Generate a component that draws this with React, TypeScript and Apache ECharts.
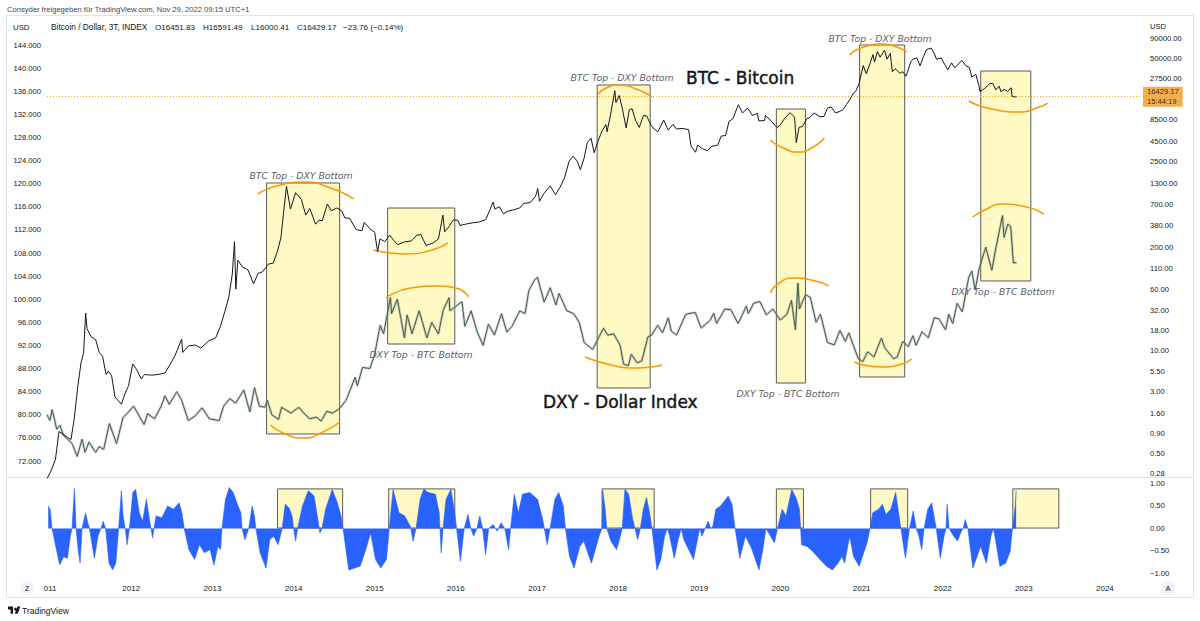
import React, { useEffect, useRef } from 'react';
import * as echarts from 'echarts';

// ---------- DATA ----------
const btcPrice: [string, number][] = [
  ['2010-12-18', 0.24], ['2011-01-05', 0.30], ['2011-01-25', 0.42], ['2011-02-10', 0.95], ['2011-02-28', 0.88],
  ['2011-03-20', 0.80], ['2011-04-05', 0.75], ['2011-04-20', 1.4], ['2011-05-05', 3.4], ['2011-05-20', 7.0],
  ['2011-06-01', 9.5], ['2011-06-10', 30], ['2011-06-16', 19], ['2011-07-05', 15], ['2011-07-25', 13.8],
  ['2011-08-10', 9.5], ['2011-08-25', 8.5], ['2011-09-10', 5.0], ['2011-09-20', 5.5], ['2011-10-05', 4.8],
  ['2011-10-20', 2.6], ['2011-11-18', 2.1], ['2011-12-05', 2.9], ['2011-12-20', 3.6], ['2012-01-08', 6.8],
  ['2012-01-25', 5.8], ['2012-02-15', 4.4], ['2012-03-01', 5.0], ['2012-04-01', 4.9], ['2012-05-01', 5.0],
  ['2012-06-01', 5.2], ['2012-06-20', 6.4], ['2012-07-15', 8.5], ['2012-08-15', 14], ['2012-08-20', 9.5],
  ['2012-09-15', 11.5], ['2012-10-15', 11.8], ['2012-11-10', 10.8], ['2012-12-15', 13.3], ['2013-01-15', 14.5],
  ['2013-02-05', 20], ['2013-02-25', 31], ['2013-03-15', 47], ['2013-03-31', 93], ['2013-04-10', 240],
  ['2013-04-16', 60], ['2013-04-25', 140], ['2013-05-15', 115], ['2013-06-10', 105], ['2013-07-05', 70],
  ['2013-07-25', 95], ['2013-08-15', 100], ['2013-09-10', 125], ['2013-10-01', 128], ['2013-10-20', 180],
  ['2013-11-05', 270], ['2013-11-18', 600], ['2013-11-30', 1200], ['2013-12-18', 620], ['2013-12-28', 760],
  ['2014-01-10', 1000], ['2014-02-05', 820], ['2014-02-25', 520], ['2014-03-15', 630], ['2014-04-10', 400],
  ['2014-04-25', 450], ['2014-05-10', 440], ['2014-06-02', 720], ['2014-06-20', 590], ['2014-07-15', 640],
  ['2014-08-05', 590], ['2014-08-20', 480], ['2014-09-10', 475], ['2014-09-25', 400], ['2014-10-10', 340],
  ['2014-11-05', 330], ['2014-11-15', 420], ['2014-12-10', 350], ['2015-01-01', 315], ['2015-01-14', 180],
  ['2015-01-25', 260], ['2015-02-15', 240], ['2015-03-10', 290], ['2015-03-30', 245], ['2015-04-15', 220],
  ['2015-05-15', 238], ['2015-06-15', 245], ['2015-07-10', 290], ['2015-07-28', 295], ['2015-08-20', 215],
  ['2015-09-20', 230], ['2015-10-15', 260], ['2015-11-04', 520], ['2015-11-12', 320], ['2015-12-01', 370],
  ['2015-12-20', 450], ['2016-01-10', 450], ['2016-01-20', 385], ['2016-02-15', 400], ['2016-03-15', 415],
  ['2016-04-15', 425], ['2016-05-15', 455], ['2016-06-17', 760], ['2016-06-25', 620], ['2016-07-15', 665],
  ['2016-08-03', 540], ['2016-08-20', 580], ['2016-09-20', 610], ['2016-10-15', 640], ['2016-11-01', 730],
  ['2016-12-01', 750], ['2016-12-25', 900], ['2017-01-04', 1130], ['2017-01-12', 780], ['2017-02-01', 980],
  ['2017-03-01', 1220], ['2017-03-25', 940], ['2017-04-15', 1180], ['2017-05-05', 1550], ['2017-05-25', 2500],
  ['2017-06-12', 2900], ['2017-07-01', 2500], ['2017-07-15', 1950], ['2017-08-01', 2750], ['2017-08-15', 4300],
  ['2017-09-01', 4900], ['2017-09-15', 3200], ['2017-10-01', 4400], ['2017-10-20', 6000], ['2017-11-07', 7300],
  ['2017-11-12', 5900], ['2017-11-28', 9800], ['2017-12-17', 19500], ['2017-12-22', 13800], ['2018-01-06', 17000],
  ['2018-01-20', 11500], ['2018-02-06', 6600], ['2018-02-20', 11200], ['2018-03-05', 11500], ['2018-03-20', 8300],
  ['2018-04-06', 6700], ['2018-04-25', 9500], ['2018-05-10', 9300], ['2018-05-28', 7200], ['2018-06-12', 6400],
  ['2018-06-29', 5900], ['2018-07-25', 8300], ['2018-08-14', 6200], ['2018-09-05', 7300], ['2018-09-20', 6400],
  ['2018-10-15', 6500], ['2018-11-14', 6300], ['2018-11-25', 3900], ['2018-12-15', 3250], ['2018-12-25', 4000],
  ['2019-01-15', 3600], ['2019-02-08', 3400], ['2019-02-25', 3850], ['2019-03-25', 4000], ['2019-04-10', 5200],
  ['2019-04-30', 5300], ['2019-05-15', 8000], ['2019-06-01', 8600], ['2019-06-26', 13000], ['2019-07-15', 10200],
  ['2019-08-06', 11800], ['2019-08-29', 9500], ['2019-09-20', 10100], ['2019-09-26', 8100], ['2019-10-22', 8200],
  ['2019-10-26', 9500], ['2019-11-20', 8100], ['2019-12-17', 6700], ['2020-01-01', 7200], ['2020-01-20', 8700],
  ['2020-02-14', 10300], ['2020-03-05', 9000], ['2020-03-13', 4300], ['2020-03-25', 6700], ['2020-04-10', 6900],
  ['2020-04-30', 8700], ['2020-05-10', 8800], ['2020-06-01', 10200], ['2020-06-25', 9200], ['2020-07-15', 9200],
  ['2020-08-01', 11800], ['2020-08-17', 12200], ['2020-09-05', 10200], ['2020-09-25', 10700], ['2020-10-10', 11300],
  ['2020-10-25', 13100], ['2020-11-10', 15300], ['2020-11-25', 18200], ['2020-12-05', 19200], ['2020-12-20', 23800],
  ['2021-01-08', 40600], ['2021-01-22', 32000], ['2021-02-10', 45000], ['2021-02-21', 56000], ['2021-02-28', 45000],
  ['2021-03-13', 61000], ['2021-03-25', 52000], ['2021-04-14', 63500], ['2021-04-25', 49000], ['2021-05-10', 58000],
  ['2021-05-19', 34000], ['2021-06-01', 37000], ['2021-06-22', 32500], ['2021-07-05', 34000], ['2021-07-20', 29800],
  ['2021-08-10', 45000], ['2021-08-20', 49000], ['2021-09-06', 51000], ['2021-09-21', 40500], ['2021-10-05', 51500],
  ['2021-10-20', 65000], ['2021-11-10', 67500], ['2021-11-25', 57000], ['2021-12-04', 49000], ['2021-12-25', 50800],
  ['2022-01-10', 41800], ['2022-01-24', 36000], ['2022-02-10', 44000], ['2022-02-24', 38000], ['2022-03-28', 47300],
  ['2022-04-15', 40500], ['2022-05-01', 38500], ['2022-05-12', 29000], ['2022-05-30', 31500], ['2022-06-13', 22500],
  ['2022-06-18', 19000], ['2022-07-10', 21000], ['2022-07-30', 23800], ['2022-08-14', 24300], ['2022-08-28', 20000],
  ['2022-09-12', 22300], ['2022-09-20', 19000], ['2022-10-05', 20300], ['2022-10-20', 19100], ['2022-11-05', 21300],
  ['2022-11-09', 16600], ['2022-11-20', 16300], ['2022-11-29', 16429.17],
];

const dxyIndex: [string, number][] = [
  ['2010-12-18', 80.0], ['2010-12-31', 79.0], ['2011-01-10', 80.9], ['2011-01-31', 77.5], ['2011-02-15', 78.2],
  ['2011-03-01', 76.5], ['2011-03-20', 75.8], ['2011-04-10', 75.0], ['2011-05-03', 72.8], ['2011-05-25', 75.8],
  ['2011-06-07', 73.5], ['2011-06-25', 75.3], ['2011-07-25', 73.5], ['2011-08-10', 74.5], ['2011-08-30', 74.0],
  ['2011-09-25', 78.5], ['2011-10-27', 75.0], ['2011-11-25', 79.5], ['2011-12-15', 80.3], ['2012-01-12', 81.5],
  ['2012-02-28', 78.3], ['2012-03-15', 80.2], ['2012-04-15', 79.3], ['2012-05-15', 81.5], ['2012-06-01', 83.3],
  ['2012-06-20', 81.8], ['2012-07-24', 84.0], ['2012-08-15', 82.5], ['2012-09-14', 79.0], ['2012-10-15', 79.8],
  ['2012-11-15', 81.2], ['2012-12-18', 79.3], ['2013-01-31', 79.0], ['2013-02-20', 81.5], ['2013-03-20', 82.8],
  ['2013-04-15', 82.0], ['2013-05-22', 84.3], ['2013-06-18', 80.5], ['2013-07-09', 84.7], ['2013-07-31', 81.5],
  ['2013-08-25', 81.3], ['2013-09-05', 82.5], ['2013-09-25', 80.0], ['2013-10-25', 79.2], ['2013-11-08', 81.3],
  ['2013-12-20', 80.3], ['2014-01-25', 81.3], ['2014-02-15', 80.3], ['2014-03-15', 79.3], ['2014-04-15', 79.6],
  ['2014-05-05', 78.9], ['2014-05-30', 80.6], ['2014-06-25', 80.3], ['2014-07-25', 81.0], ['2014-08-25', 82.5],
  ['2014-09-15', 84.5], ['2014-10-05', 86.5], ['2014-10-15', 85.0], ['2014-11-07', 88.2], ['2014-12-10', 88.0],
  ['2014-12-31', 90.3], ['2015-01-26', 95.5], ['2015-02-10', 94.0], ['2015-03-13', 100.3], ['2015-03-18', 97.5],
  ['2015-04-13', 100.0], ['2015-05-15', 93.3], ['2015-05-27', 97.3], ['2015-06-18', 94.0], ['2015-07-20', 98.0],
  ['2015-08-24', 93.3], ['2015-09-15', 96.0], ['2015-10-15', 94.0], ['2015-11-05', 98.0], ['2015-12-02', 100.3],
  ['2015-12-05', 98.0], ['2015-12-30', 98.7], ['2016-01-29', 99.6], ['2016-02-11', 95.3], ['2016-03-10', 98.0],
  ['2016-04-05', 94.5], ['2016-05-03', 92.0], ['2016-05-27', 95.7], ['2016-06-23', 93.8], ['2016-07-25', 97.5],
  ['2016-08-18', 94.3], ['2016-09-10', 95.3], ['2016-10-15', 98.0], ['2016-11-08', 97.5], ['2016-11-25', 101.5],
  ['2016-12-20', 103.3], ['2017-01-03', 103.8], ['2017-02-02', 99.5], ['2017-03-01', 102.0], ['2017-03-27', 99.0],
  ['2017-04-10', 101.0], ['2017-05-15', 98.0], ['2017-06-15', 97.5], ['2017-07-10', 96.0], ['2017-08-01', 92.5],
  ['2017-09-08', 91.3], ['2017-10-27', 95.0], ['2017-11-15', 93.8], ['2017-12-12', 94.0], ['2018-01-10', 92.0],
  ['2018-01-25', 88.8], ['2018-02-16', 88.5], ['2018-03-01', 90.5], ['2018-03-27', 89.0], ['2018-04-17', 89.3],
  ['2018-05-15', 93.5], ['2018-06-01', 93.8], ['2018-06-28', 95.5], ['2018-07-20', 94.2], ['2018-08-15', 96.8],
  ['2018-08-28', 94.5], ['2018-09-21', 93.8], ['2018-10-31', 97.3], ['2018-11-12', 97.5], ['2018-12-14', 97.7],
  ['2019-01-10', 95.0], ['2019-02-20', 96.4], ['2019-03-07', 97.6], ['2019-03-20', 95.8], ['2019-04-26', 98.3],
  ['2019-05-23', 98.2], ['2019-06-25', 95.8], ['2019-08-01', 98.8], ['2019-08-10', 97.5], ['2019-09-03', 99.3],
  ['2019-10-01', 99.6], ['2019-10-30', 97.3], ['2019-11-29', 98.3], ['2019-12-31', 96.4], ['2020-01-31', 97.4],
  ['2020-02-20', 99.8], ['2020-03-09', 94.7], ['2020-03-20', 102.8], ['2020-03-27', 98.3], ['2020-04-10', 99.6],
  ['2020-04-24', 100.8], ['2020-05-15', 100.3], ['2020-06-10', 96.0], ['2020-06-30', 97.4], ['2020-07-31', 92.5],
  ['2020-08-31', 92.1], ['2020-09-25', 94.6], ['2020-10-20', 92.7], ['2020-11-04', 94.2], ['2020-12-17', 89.7],
  ['2021-01-06', 89.2], ['2021-01-28', 90.9], ['2021-02-25', 90.0], ['2021-03-31', 93.3], ['2021-04-15', 91.6],
  ['2021-05-25', 89.7], ['2021-06-10', 90.0], ['2021-07-05', 92.7], ['2021-07-30', 91.8], ['2021-08-20', 93.7],
  ['2021-09-03', 92.0], ['2021-09-30', 94.4], ['2021-10-28', 93.3], ['2021-11-24', 96.8], ['2021-12-15', 96.6],
  ['2022-01-14', 94.7], ['2022-01-28', 97.4], ['2022-02-15', 95.8], ['2022-03-07', 99.3], ['2022-03-30', 97.8],
  ['2022-04-28', 103.8], ['2022-05-12', 104.9], ['2022-05-27', 101.6], ['2022-06-15', 105.5], ['2022-07-14', 109.0],
  ['2022-08-10', 105.0], ['2022-08-29', 109.0], ['2022-09-27', 114.5], ['2022-10-04', 110.7], ['2022-10-21', 113.0],
  ['2022-11-03', 112.6], ['2022-11-15', 106.3], ['2022-11-29', 106.338],
];

// correlation, [decimal year, coefficient]
const correlation: [number, number][] = [
  [2010.977, 0.5], [2011.0, 0.43], [2011.024, 0], [2011.07, -0.4], [2011.118, -0.81], [2011.166, -0.63], [2011.213, -0.66],
  [2011.25, -0.17], [2011.27, 0], [2011.3, 0.89], [2011.32, 0], [2011.346, -0.47], [2011.37, -0.77], [2011.394, 0],
  [2011.437, 0.35], [2011.465, 0.13], [2011.485, 0], [2011.546, -0.66], [2011.59, -0.17], [2011.627, 0], [2011.655, 0.16],
  [2011.684, 0], [2011.727, -0.77], [2011.77, -0.92], [2011.81, -0.77], [2011.845, 0], [2011.879, 0.84], [2011.9, 0.28],
  [2011.926, 0], [2011.95, -0.36], [2011.978, 0], [2012.02, 0.8], [2012.055, 0.87], [2012.1, 0.35], [2012.14, 0.16],
  [2012.187, 0.65], [2012.225, 0.2], [2012.244, 0], [2012.263, -0.21], [2012.28, 0], [2012.306, 0.28], [2012.377, 0.24],
  [2012.448, 0.5], [2012.52, 0.43], [2012.59, 0.57], [2012.624, 0.35], [2012.652, 0], [2012.71, -0.47], [2012.78, -0.69],
  [2012.84, -0.36], [2012.9, -0.54], [2012.97, -0.47], [2013.018, -0.81], [2013.066, -0.4], [2013.1, -0.47], [2013.117, 0],
  [2013.16, 0.65], [2013.207, 0.91], [2013.255, 0.8], [2013.3, 0.57], [2013.35, 0.35], [2013.365, 0], [2013.4, -0.25],
  [2013.446, 0], [2013.49, 0.5], [2013.517, 0.28], [2013.535, 0], [2013.587, -0.54], [2013.66, -0.88], [2013.706, -0.25],
  [2013.754, -0.17], [2013.81, -0.36], [2013.859, 0], [2013.897, 0.54], [2013.944, 0.46], [2013.982, 0.28], [2014.0, 0],
  [2014.025, -0.28], [2014.05, 0], [2014.11, 0.5], [2014.182, 0.84], [2014.253, 0.72], [2014.3, 0.2], [2014.325, -0.1],
  [2014.35, 0], [2014.395, 0.43], [2014.476, 0.87], [2014.54, 0.57], [2014.585, 0.28], [2014.61, 0], [2014.68, -0.92],
  [2014.82, -0.84], [2014.89, -0.47], [2014.95, -0.1], [2015.01, -0.69], [2015.075, -0.88], [2015.145, -0.69], [2015.18, 0],
  [2015.227, 0.87], [2015.3, 0.35], [2015.37, 0.28], [2015.44, 0.05], [2015.473, -0.28], [2015.51, 0], [2015.56, 0.65],
  [2015.606, 0.87], [2015.663, 0.8], [2015.75, 0.76], [2015.796, 0.35], [2015.82, -0.54], [2015.843, 0], [2015.88, 0.65],
  [2015.94, 0.87], [2015.987, 0.35], [2016.01, 0], [2016.057, -0.73], [2016.104, 0], [2016.15, 0.31], [2016.185, 0],
  [2016.22, -0.17], [2016.26, 0], [2016.295, 0.28], [2016.33, 0], [2016.367, -0.58], [2016.405, 0], [2016.46, 0.09],
  [2016.51, -0.06], [2016.556, 0.13], [2016.603, 0], [2016.65, -0.47], [2016.674, 0], [2016.72, 0.76], [2016.77, 0.35],
  [2016.82, 0.76], [2016.91, 0.8], [2017.006, 0.65], [2017.07, 0.2], [2017.09, 0], [2017.125, -0.36], [2017.16, 0],
  [2017.22, 0.65], [2017.267, 0.8], [2017.324, 0.5], [2017.35, 0], [2017.4, -0.62], [2017.456, -0.88], [2017.527, -0.4],
  [2017.575, -0.28], [2017.67, -0.77], [2017.765, -0.17], [2017.8, 0], [2017.81, 0.84], [2017.84, 0.43], [2017.86, 0],
  [2017.91, -0.28], [2017.98, -0.47], [2018.027, -0.17], [2018.05, 0], [2018.084, 0.87], [2018.13, 0.76], [2018.18, 0.2],
  [2018.208, 0], [2018.24, -0.25], [2018.274, 0], [2018.31, 0.43], [2018.35, 0.69], [2018.388, 0.35], [2018.417, 0],
  [2018.478, -0.92], [2018.526, -0.69], [2018.573, -0.17], [2018.607, 0], [2018.635, -0.17], [2018.692, -0.66],
  [2018.74, -0.25], [2018.778, 0], [2018.81, -0.25], [2018.93, -0.69], [2018.977, -0.25], [2019.005, 0], [2019.034, -0.17],
  [2019.072, 0], [2019.11, 0.16], [2019.143, 0], [2019.167, 0.05], [2019.205, 0.43], [2019.262, 0.5], [2019.357, 0.72],
  [2019.404, 0.54], [2019.442, 0], [2019.5, -0.66], [2019.57, -0.17], [2019.642, -0.43], [2019.737, -0.92], [2019.784, -0.47],
  [2019.822, 0], [2019.88, -0.17], [2019.927, -0.32], [2019.965, 0], [2020.022, 0.43], [2020.07, 0.28], [2020.14, 0.87],
  [2020.2, 0.65], [2020.235, 0.43], [2020.25, 0], [2020.26, -0.36], [2020.33, -0.4], [2020.4, -0.51], [2020.473, -0.66],
  [2020.568, -0.84], [2020.64, -0.92], [2020.71, -0.77], [2020.758, -0.62], [2020.79, -0.77], [2020.853, -0.17],
  [2020.9, -0.62], [2020.97, -0.84], [2021.066, -0.32], [2021.104, 0], [2021.137, 0.35], [2021.21, 0.43], [2021.256, 0.54],
  [2021.3, 0.31], [2021.36, 0.43], [2021.42, 0.8], [2021.456, 0.35], [2021.484, 0], [2021.54, -0.66], [2021.59, 0],
  [2021.636, 0.39], [2021.674, 0], [2021.707, -0.17], [2021.74, -0.47], [2021.77, 0], [2021.816, 0.43], [2021.864, 0.57],
  [2021.9, 0.2], [2021.92, 0], [2021.97, -0.66], [2022.016, -0.17], [2022.04, 0], [2022.054, 0.54], [2022.078, 0],
  [2022.135, -0.17], [2022.182, -0.28], [2022.23, -0.06], [2022.253, 0], [2022.277, 0.2], [2022.31, 0], [2022.372, -0.88],
  [2022.467, -0.4], [2022.538, -0.77], [2022.595, -0.17], [2022.624, 0], [2022.643, -0.17], [2022.705, -0.84],
  [2022.776, -0.77], [2022.832, -0.51], [2022.86, 0], [2022.894, 0.5], [2022.905, 0.84],
];

const yearTicks = [2011, 2012, 2013, 2014, 2015, 2016, 2017, 2018, 2019, 2020, 2021, 2022, 2023, 2024];
const btcTicks = [90000, 50000, 27500, 8500, 4500, 2500, 1300, 700, 380, 200, 110, 60, 32, 18, 10, 5.5, 3, 1.6, 0.9, 0.5, 0.28];
const dxyTicks = [72, 76, 80, 84, 88, 92, 96, 100, 104, 108, 112, 116, 120, 124, 128, 132, 136, 140, 144];
const corrTicks = [-1, -0.5, 0, 0.5, 1];

const lastBtc = 16429.17;
const lastDxy = 106.338;
const lastCorr = 0.84;

// annotation boxes on the price pane: [from year, DXY top, to year, DXY bottom]
const priceBoxes: [number, number, number, number][] = [
  [2013.667, 120.12, 2014.568, 76.68],
  [2015.16, 115.79, 2015.988, 92.25],
  [2017.741, 137.08, 2018.395, 84.64],
  [2019.951, 132.92, 2020.309, 85.5],
  [2020.975, 144.0, 2021.531, 86.54],
  [2022.469, 139.5, 2023.086, 103.16],
];
// annotation boxes on the correlation pane: [from year, top, to year, bottom]
const corrBoxes: [number, number, number, number][] = [
  [2013.802, 0.88, 2014.605, 0.01],
  [2015.173, 0.88, 2015.988, 0.01],
  [2017.802, 0.88, 2018.444, 0.01],
  [2019.951, 0.88, 2020.284, 0.01],
  [2021.111, 0.88, 2021.568, 0.01],
  [2022.864, 0.88, 2023.432, 0.01],
];
// hand-drawn orange arcs, in [year, DXY-scale value]
const arcs: [number, number][][] = [
  [[2013.556, 118.21], [2013.84, 119.77], [2014.123, 120.29], [2014.457, 119.25], [2014.741, 117.35]],
  [[2013.716, 78.23], [2013.901, 76.68], [2014.123, 75.98], [2014.358, 77.02], [2014.568, 78.75]],
  [[2014.988, 108.52], [2015.198, 108.0], [2015.407, 107.83], [2015.667, 108.35], [2015.901, 109.74]],
  [[2015.136, 100.21], [2015.444, 101.94], [2015.753, 102.29], [2016.0, 101.94], [2016.16, 100.39]],
  [[2017.753, 135.52], [2017.852, 136.56], [2018.012, 137.08], [2018.222, 136.38], [2018.42, 135.0]],
  [[2017.593, 90.0], [2017.914, 88.62], [2018.198, 88.1], [2018.407, 88.27], [2018.543, 88.62]],
  [[2019.877, 127.56], [2020.037, 126.17], [2020.222, 125.48], [2020.383, 126.17], [2020.543, 127.9]],
  [[2019.877, 101.08], [2019.988, 102.81], [2020.173, 103.67], [2020.383, 103.33], [2020.593, 102.29]],
  [[2020.852, 142.27], [2021.025, 143.65], [2021.247, 144.17], [2021.432, 143.65], [2021.556, 142.79]],
  [[2020.914, 89.14], [2021.099, 88.44], [2021.272, 88.27], [2021.457, 88.62], [2021.617, 89.66]],
  [[2022.321, 134.31], [2022.605, 132.92], [2022.938, 132.4], [2023.16, 133.1], [2023.296, 133.96]],
  [[2022.37, 114.23], [2022.543, 115.62], [2022.728, 116.48], [2022.975, 116.14], [2023.247, 114.75]],
];

// ---------- HELPERS ----------
function decYear(d: number): number {
  const y = Math.floor(d);
  const a = Date.UTC(y, 0, 1);
  const b = Date.UTC(y + 1, 0, 1);
  return a + (d - y) * (b - a);
}

const AX = "'Liberation Sans', Arial, sans-serif";
const DV = "'DejaVu Sans', sans-serif";
const TXT = '#131722';

echarts.graphic.registerShape(
  'tvlogo',
  echarts.graphic.extendPath('M0 0H7V8H3.6V3.3H0Z M11.3 1.7A1.7 1.7 0 1 1 11.29 1.69Z M13 0H17.2L13.4 8H9.4Z', {})
);

function txt(text: string, x: number, y: number, extra: any = {}) {
  const align = extra.align || 'left';
  const style: any = {
    text,
    fill: extra.fill || TXT,
    fontSize: extra.fontSize || 8,
    fontFamily: extra.fontFamily || AX,
    fontStyle: extra.fontStyle || 'normal',
    fontWeight: extra.fontWeight || 'normal',
    align,
    textAlign: align,
    verticalAlign: 'middle',
    textVerticalAlign: 'middle',
  };
  if (extra.stroke) {
    style.stroke = extra.stroke;
    style.lineWidth = extra.lineWidth || 0.5;
  }
  return { type: 'text', x, y, silent: true, z: 50, style };
}

function buildOption(): any {
  const xMin = Date.UTC(2010, 11, 18);
  const xMax = Date.UTC(2024, 5, 16);
  const hiddenAxisParts = {
    axisLine: { show: false },
    axisTick: { show: false },
    splitLine: { show: false },
  };
  const axisLabelBase = { fontSize: 7.6, color: TXT, fontFamily: AX };

  const noteStyle = { fontSize: 9.3, fontFamily: DV, fontStyle: 'italic', fill: '#5d606b', align: 'center' };
  const bigStyle = { fontSize: 17, fontFamily: DV, fill: '#131722', stroke: '#131722', lineWidth: 0.45 };

  const series: any[] = [
    {
      type: 'line',
      name: 'boxes',
      xAxisIndex: 0,
      yAxisIndex: 0,
      data: [],
      silent: true,
      z: 1,
      markArea: {
        silent: true,
        itemStyle: { color: 'rgba(255,235,59,0.3)', borderColor: '#5a5a5a', borderWidth: 1 },
        data: priceBoxes.map((b) => [
          { xAxis: decYear(b[0]), yAxis: b[1] },
          { xAxis: decYear(b[2]), yAxis: b[3] },
        ]),
      },
    },
    {
      type: 'line',
      name: 'corrBoxes',
      xAxisIndex: 1,
      yAxisIndex: 3,
      data: [],
      silent: true,
      z: 1,
      markArea: {
        silent: true,
        itemStyle: { color: 'rgba(255,235,59,0.3)', borderColor: '#5a5a5a', borderWidth: 1 },
        data: corrBoxes.map((b) => [
          { xAxis: decYear(b[0]), yAxis: b[1] },
          { xAxis: decYear(b[2]), yAxis: b[3] },
        ]),
      },
    },
    ...arcs.map((a) => ({
      type: 'line',
      xAxisIndex: 0,
      yAxisIndex: 0,
      data: a.map((p) => [decYear(p[0]), p[1]]),
      smooth: 0.6,
      symbol: 'none',
      silent: true,
      z: 2,
      lineStyle: { color: '#ff9800', width: 1.5 },
    })),
    {
      type: 'line',
      name: 'DXY shadow',
      xAxisIndex: 0,
      yAxisIndex: 0,
      data: dxyIndex,
      symbol: 'none',
      silent: true,
      z: 3,
      lineStyle: { color: 'rgba(150,150,150,0.45)', width: 2.6 },
    },
    {
      type: 'line',
      name: 'DXY',
      xAxisIndex: 0,
      yAxisIndex: 0,
      data: dxyIndex,
      symbol: 'none',
      silent: true,
      z: 4,
      lineStyle: { color: '#3f5f4c', width: 1 },
      markLine: {
        silent: true,
        symbol: 'none',
        animation: false,
        lineStyle: { opacity: 0 },
        data: [{ yAxis: lastDxy }],
        label: {
          show: true,
          position: 'start',
          distance: 8,
          formatter: lastDxy.toFixed(3),
          backgroundColor: '#5c9f78',
          color: '#ffffff',
          fontSize: 7.6,
          fontFamily: AX,
          padding: [2, 3, 1, 3],
        },
      },
    },
    {
      type: 'line',
      name: 'BTC',
      xAxisIndex: 0,
      yAxisIndex: 1,
      data: btcPrice,
      symbol: 'none',
      silent: true,
      z: 5,
      lineStyle: { color: '#131722', width: 1 },
      markLine: {
        silent: true,
        symbol: 'none',
        animation: false,
        itemStyle: { color: '#ff9800' },
        lineStyle: { color: '#ff9800', type: [1, 2], width: 1, opacity: 0.9 },
        data: [{ yAxis: lastBtc, lineStyle: { color: '#ff9800', type: [1, 2], width: 1 } }],
        label: {
          show: true,
          position: 'end',
          distance: 1,
          formatter: lastBtc.toFixed(2) + '\n15:44:19',
          backgroundColor: '#f2a63c',
          color: '#131722',
          fontSize: 7.6,
          lineHeight: 9.5,
          fontFamily: AX,
          padding: [1, 4, 0, 4],
        },
      },
    },
    {
      type: 'line',
      name: 'Correlation',
      xAxisIndex: 1,
      yAxisIndex: 3,
      data: correlation.map((p) => [decYear(p[0]), p[1]]),
      symbol: 'none',
      silent: true,
      z: 3,
      lineStyle: { color: '#2962ff', width: 0.6 },
      areaStyle: { color: '#2962ff', opacity: 1 },
      markLine: {
        silent: true,
        symbol: 'none',
        animation: false,
        lineStyle: { opacity: 0 },
        data: [{ yAxis: lastCorr }],
        label: {
          show: true,
          position: 'end',
          distance: 5,
          formatter: lastCorr.toFixed(2),
          backgroundColor: '#2962ff',
          color: '#ffffff',
          fontWeight: 'bold',
          fontSize: 7.6,
          fontFamily: AX,
          padding: [2, 5, 1, 5],
        },
      },
    },
  ];

  const graphics: any[] = [
    {
      type: 'rect',
      silent: true,
      z: -10,
      shape: { x: 6.5, y: 15.5, width: 1187, height: 582 },
      style: { fill: 'none', stroke: '#e0e3eb', lineWidth: 1 },
    },
    {
      type: 'line',
      silent: true,
      z: -10,
      shape: { x1: 6.5, y1: 477.5, x2: 1193.5, y2: 477.5 },
      style: { stroke: '#e0e3eb', lineWidth: 1 },
    },
    txt('Consyder freigegeben für TradingView.com, Nov 29, 2022 09:15 UTC+1', 7, 9, { fontSize: 7.6, fill: '#434651' }),
    txt('USD', 13, 27, { fontSize: 7.8 }),
    txt('Bitcoin / Dollar, 3T, INDEX', 51, 27, { fontSize: 8.3 }),
    txt('O16451.83', 155, 27, { fontSize: 8.1 }),
    txt('H16591.49', 203, 27, { fontSize: 8.1 }),
    txt('L16000.41', 251, 27, { fontSize: 8.1 }),
    txt('C16429.17', 297, 27, { fontSize: 8.1 }),
    txt('\u221223.76 (\u22120.14%)', 343, 27, { fontSize: 8.1 }),
    txt('USD', 1150, 26, { fontSize: 7.6 }),
    txt('BTC Top - DXY Bottom', 301, 175, noteStyle),
    txt('DXY Top - BTC Bottom', 421, 354, noteStyle),
    txt('BTC Top - DXY Bottom', 622, 77, noteStyle),
    txt('DXY Top - BTC Bottom', 788, 393, noteStyle),
    txt('BTC Top - DXY Bottom', 880, 38, noteStyle),
    txt('DXY Top - BTC Bottom', 1003, 291, noteStyle),
    txt('BTC - Bitcoin', 686, 78, bigStyle),
    txt('DXY - Dollar Index', 543, 402, bigStyle),
    {
      type: 'circle',
      silent: true,
      shape: { cx: 27, cy: 588, r: 7 },
      style: { fill: '#f0f3fa' },
    },
    txt('Z', 27, 588, { fontSize: 7.5, align: 'center' }),
    {
      type: 'circle',
      silent: true,
      shape: { cx: 1168, cy: 588, r: 7 },
      style: { fill: '#f0f3fa' },
    },
    txt('A', 1168, 588, { fontSize: 7.5, align: 'center' }),
    {
      type: 'tvlogo',
      silent: true,
      x: 8,
      y: 606.5,
      scaleX: 0.72,
      scaleY: 0.9,
      style: { fill: '#131722' },
    },
    txt('TradingView', 22, 610.5, { fontSize: 8.5, fill: '#131722' }),
  ];

  return {
    animation: false,
    backgroundColor: '#ffffff',
    grid: [
      { left: 47, right: 58, top: 16, height: 462 },
      { left: 47, right: 58, top: 478, height: 100 },
    ],
    xAxis: [
      { type: 'time', gridIndex: 0, min: xMin, max: xMax, show: false, ...hiddenAxisParts },
      { type: 'time', gridIndex: 1, min: xMin, max: xMax, show: false, ...hiddenAxisParts },
      {
        // year labels (same extent, plain millisecond scale)
        type: 'value',
        gridIndex: 1,
        position: 'bottom',
        min: xMin,
        max: xMax,
        ...hiddenAxisParts,
        axisLabel: {
          ...axisLabelBase,
          fontSize: 8,
          margin: 6,
          customValues: yearTicks.map((y) => Date.UTC(y, 0, 1)),
          formatter: (v: number) => {
            const y = new Date(v).getUTCFullYear();
            return y === 2011 ? '011' : String(y);
          },
        },
      },
    ],
    yAxis: [
      {
        type: 'value',
        gridIndex: 0,
        position: 'left',
        min: 69.06,
        max: 149.02,
        ...hiddenAxisParts,
        axisLabel: {
          ...axisLabelBase,
          margin: 6,
          customValues: dxyTicks,
          formatter: (v: number) => v.toFixed(3),
        },
      },
      {
        type: 'log',
        logBase: 10,
        gridIndex: 0,
        position: 'right',
        min: 0.2446,
        max: 172400,
        show: false,
        ...hiddenAxisParts,
        axisLabel: { show: false },
      },
      {
        // tick-label scale for the log price axis (same grid, log10 space)
        type: 'value',
        gridIndex: 0,
        position: 'right',
        min: Math.log10(0.2446),
        max: Math.log10(172400),
        ...hiddenAxisParts,
        axisLabel: {
          ...axisLabelBase,
          margin: 8,
          customValues: btcTicks.map((v) => Math.log10(v)),
          formatter: (v: number) => Math.pow(10, v).toFixed(2),
        },
      },
      {
        type: 'value',
        gridIndex: 1,
        position: 'right',
        min: -1.1,
        max: 1.122,
        ...hiddenAxisParts,
        axisLabel: {
          ...axisLabelBase,
          margin: 8,
          customValues: corrTicks,
          formatter: (v: number) => (v < 0 ? '\u2212' + Math.abs(v).toFixed(2) : v.toFixed(2)),
        },
      },
    ],
    series,
    graphic: { elements: graphics },
  };
}

export default function App() {
  const ref = useRef<HTMLDivElement>(null);
  useEffect(() => {
    if (!ref.current) return;
    const chart = echarts.init(ref.current, null, { renderer: 'svg' });
    chart.setOption(buildOption());
    return () => {
      chart.dispose();
    };
  }, []);
  return (
    <div style={{ position: 'fixed', left: 0, top: 0, width: 1200, height: 621, background: '#ffffff' }}>
      <div ref={ref} style={{ width: 1200, height: 621 }} />
    </div>
  );
}
